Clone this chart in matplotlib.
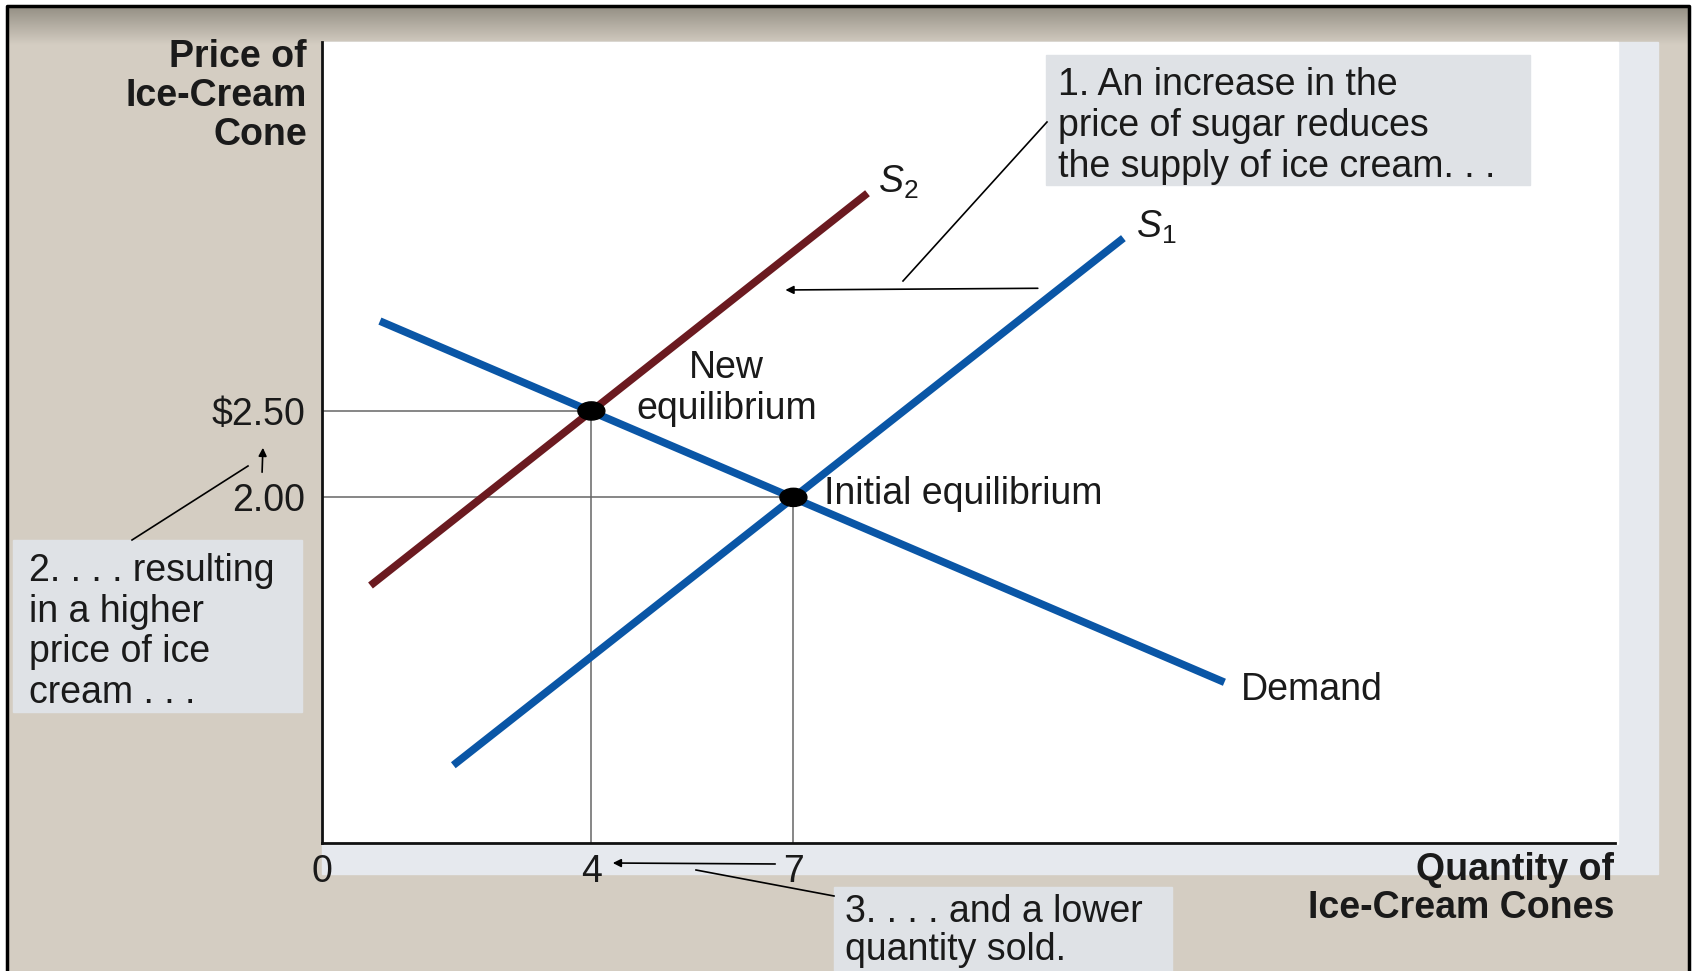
import numpy as np
import matplotlib
matplotlib.use('Agg')
import matplotlib.pyplot as plt
from matplotlib.patches import Rectangle, Ellipse

plt.rcParams['font.family'] = ['Liberation Sans', 'DejaVu Sans']
plt.rcParams['mathtext.fontset'] = 'custom'
plt.rcParams['mathtext.rm'] = 'Liberation Sans'
plt.rcParams['mathtext.it'] = 'Liberation Sans:italic'

# curves (quantity, price) endpoints
s1_q = [1.95, 11.9]
s1_p = [0.45, 3.50]
s2_q = [0.72, 8.1]
s2_p = [1.49, 3.76]
dem_q = [0.86, 13.4]
dem_p = [3.02, 0.93]

# equilibria
eq_q = [4, 7]
eq_p = [2.5, 2.0]
xtick_vals = [0, 4, 7]
xtick_labels = ['0', '4', '7']
ytick_vals = [2.0, 2.5]
ytick_labels = ['2.00', '$2.50']

W, H = 1692, 971
fig = plt.figure(figsize=(W / 100, H / 100), dpi=100)

# background / frame drawn in pixel coordinates
bg = fig.add_axes([0, 0, 1, 1])
bg.set_xlim(0, W)
bg.set_ylim(H, 0)
bg.axis('off')
beige = '#d4cdc2'
bg.add_patch(Rectangle((0, 0), W, H, color='white', zorder=0))
bg.add_patch(Rectangle((7, 6), 1682, 970, color=beige, zorder=0))
grad = np.linspace(0, 1, 50).reshape(-1, 1)
cmap = matplotlib.colors.LinearSegmentedColormap.from_list('g', ['#948f84', beige])
bg.imshow(grad, cmap=cmap, extent=(7, 1689, 45, 6), aspect='auto', zorder=0.5)
bg.plot([7, 7, 1689, 1689], [H, 6, 6, H], color='black', lw=2.5, zorder=1)
# light panel and white plot area
bg.add_patch(Rectangle((322, 42), 1336, 832, color='#e6e9ee', zorder=1))
bg.add_patch(Rectangle((322, 42), 1296, 802, color='white', zorder=1))

# annotation boxes
box_c = '#dfe2e6'
bg.add_patch(Rectangle((1046, 55), 484, 130, color=box_c, zorder=2))
bg.add_patch(Rectangle((13, 540), 289, 172, color=box_c, zorder=2))
bg.add_patch(Rectangle((834, 887), 338, 90, color=box_c, zorder=2))

fs = 27
tc = '#1a1a1a'
bg.text(1058, 126, '1. An increase in the\nprice of sugar reduces\nthe supply of ice cream. . .',
        fontsize=fs, va='center', ha='left', linespacing=1.17, color=tc, zorder=3)
bg.text(29, 632, '2. . . . resulting\nin a higher\nprice of ice\ncream . . .',
        fontsize=fs, va='center', ha='left', linespacing=1.17, color=tc, zorder=3)
bg.text(845, 931, '3. . . . and a lower\nquantity sold.',
        fontsize=fs, va='center', ha='left', linespacing=1.1, color=tc, zorder=3)

# axis titles
bg.text(307, 96, 'Price of\nIce-Cream\nCone', fontsize=fs, fontweight='bold',
        ha='right', va='center', linespacing=1.1, color=tc, zorder=3)
bg.text(1614, 889, 'Quantity of\nIce-Cream Cones', fontsize=fs, fontweight='bold',
        ha='right', va='center', linespacing=1.07, color=tc, zorder=3)

# leader lines and small arrows
bg.plot([903, 1047], [281, 122], color='black', lw=1.2, zorder=3)
bg.plot([132, 248], [540, 466], color='black', lw=1.2, zorder=3)
bg.annotate('', xy=(263, 445), xytext=(262, 475),
            arrowprops=dict(arrowstyle='-|>', color='black', lw=1.2, mutation_scale=12), zorder=3)
bg.annotate('', xy=(610, 863), xytext=(778, 864),
            arrowprops=dict(arrowstyle='-|>', color='black', lw=1.2, mutation_scale=12), zorder=3)
bg.plot([696, 834], [870, 896], color='black', lw=1.2, zorder=3)

# main chart
ax = fig.add_axes([322 / W, (H - 843) / H, (1615 - 322) / W, (843 - 42) / H])
ax.patch.set_alpha(0)
ax.set_xlim(0, 19.2)
ax.set_ylim(0, 4.635)
for s in ['top', 'right']:
    ax.spines[s].set_visible(False)
for s in ['left', 'bottom']:
    ax.spines[s].set_linewidth(2)
    ax.spines[s].set_color('#111111')
ax.set_xticks(xtick_vals)
ax.set_xticklabels(xtick_labels, fontsize=fs)
ax.set_yticks(ytick_vals)
ax.set_yticklabels(ytick_labels, fontsize=fs)
ax.tick_params(length=0)
ax.tick_params(axis='x', pad=8, colors=tc)
ax.tick_params(axis='y', pad=12, colors=tc)

# guide lines
for q, p in zip(eq_q, eq_p):
    ax.plot([0, q], [p, p], color='#666666', lw=1.1, zorder=1)
    ax.plot([q, q], [0, p], color='#666666', lw=1.1, zorder=1)

blue = '#0a56a6'
red = '#6b1a20'
ax.plot(s2_q, s2_p, color=red, lw=5.5, solid_capstyle='butt', zorder=2)
ax.plot(dem_q, dem_p, color=blue, lw=5.5, solid_capstyle='butt', zorder=2)
ax.plot(s1_q, s1_p, color=blue, lw=5.5, solid_capstyle='butt', zorder=2)

for q, p in zip(eq_q, eq_p):
    ax.add_patch(Ellipse((q, p), 0.4, 0.105, color='black', zorder=4))

ax.annotate('', xy=(6.84, 3.2), xytext=(10.67, 3.21),
            arrowprops=dict(arrowstyle='-|>', color='black', lw=1.2, mutation_scale=12))

ax.text(8.56, 3.82, '$S_2$', fontsize=fs, va='center', ha='center', color=tc)
ax.text(12.39, 3.56, '$S_1$', fontsize=fs, va='center', ha='center', color=tc)
ax.text(6.01, 2.63, 'New\nequilibrium', fontsize=fs, ha='center', va='center',
        linespacing=1.17, color=tc)
ax.text(7.45, 2.02, 'Initial equilibrium', fontsize=fs, ha='left', va='center', color=tc)
ax.text(13.65, 0.885, 'Demand', fontsize=fs, ha='left', va='center', color=tc)

fig.savefig('out.png', dpi=100)
